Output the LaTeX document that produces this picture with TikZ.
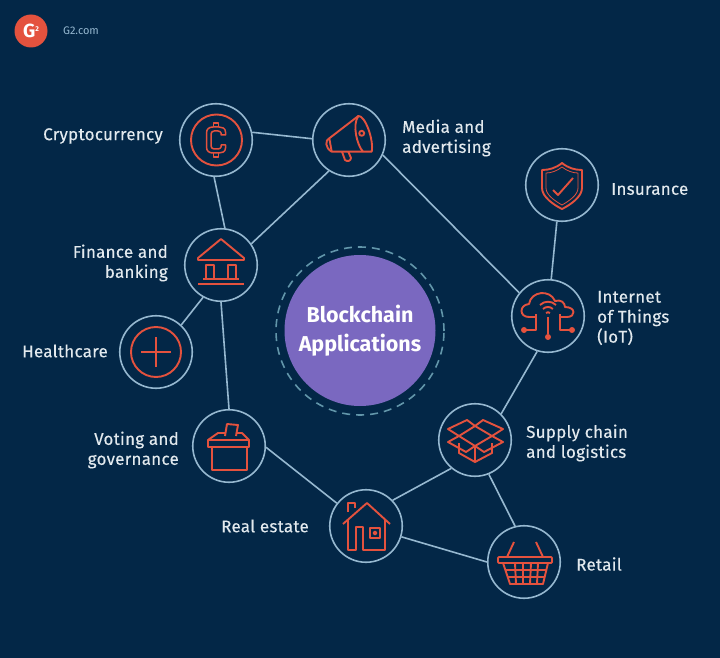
\documentclass[tikz,border=0pt]{standalone}
\usepackage{fontspec}
\setmainfont{Fira Sans}
\newfontfamily\tagfont[FakeBold=0.25,LetterSpace=1.5]{Fira Sans}
\definecolor{navy}{RGB}{3,39,71}
\definecolor{ringblue}{RGB}{150,184,208}
\definecolor{dashblue}{RGB}{98,150,170}
\definecolor{iconred}{RGB}{228,82,62}
\definecolor{hubpurple}{RGB}{122,104,192}
\definecolor{labelwhite}{RGB}{226,233,238}
\begin{document}
\begin{tikzpicture}[x=1pt,y=-1pt,line join=round]
  \tikzstyle{app node}=[circle,draw=ringblue,line width=1.6pt,minimum size=72.5pt,inner sep=0]
  \tikzstyle{link}=[draw=ringblue,line width=1.6pt]
  \tikzstyle{icon}=[draw=iconred,line width=1.9pt]
  \tikzstyle{tag}=[text=labelwhite,inner sep=0,font=\tagfont\fontsize{17}{20}\selectfont]
  \useasboundingbox (0,0) rectangle (720,658);
  \fill[navy] (0,0) rectangle (720,658);
  % logo
  \node(logo)[circle,fill=iconred,minimum size=33pt,inner sep=0,text=white,font=\fontsize{19}{19}\bfseries] at (31,31){G\raisebox{6pt}{\fontsize{7}{7}\selectfont 2}};
  \node(site)[anchor=west,inner sep=0,text=ringblue,font=\fontsize{11}{12}\selectfont] at (63,31){G2.com};
  % hub
  \node(hub)[circle,fill=hubpurple,minimum size=151pt,inner sep=0,align=center,text=white,font=\fontsize{21.5}{29}\bfseries] at (360,330.5){Blockchain\\Applications};
  \node(ring)[circle,draw=dashblue,line width=1.6pt,dash pattern=on 8pt off 6pt,minimum size=168pt,inner sep=0] at (360,331){};
  % circles
  \node(crypto)[app node] at (216,140){};
  \node(media)[app node] at (349,140){};
  \node(finance)[app node] at (221,265){};
  \node(health)[app node] at (156,352){};
  \node(voting)[app node] at (229,446){};
  \node(estate)[app node] at (366,526){};
  \node(retail)[app node] at (524,562){};
  \node(supply)[app node] at (475,440){};
  \node(iot)[app node] at (548,316){};
  \node(insure)[app node] at (562,185){};
  % links
  \path[link] (crypto.12) -- (media.178);
  \path[link] (crypto.267) -- (finance.84);
  \path[link] (media.237) -- (finance.35);
  \path[link] (media.336) -- (iot.141);
  \path[link] (insure.262) -- (iot.85);
  \path[link] (iot.253) -- (supply.45);
  \path[link] (supply.230) -- (estate.44);
  \path[link] (supply.292) -- (retail.104);
  \path[link] (estate.343) -- (retail.180);
  \path[link] (estate.142) -- (voting.358);
  \path[link] (finance.270) -- (voting.90);
  \path[link] (finance.241) -- (health.47);
  % labels
  \node(cryptotag)[tag,anchor=east] at (163,136){Cryptocurrency};
  \node(mediatag)[tag,anchor=west,align=left] at (402,138){Media and\\advertising};
  \node(financetag)[tag,anchor=east,align=right] at (168,263){Finance and\\banking};
  \node(healthtag)[tag,anchor=east] at (108,351){Healthcare};
  \node(votingtag)[tag,anchor=east,align=right] at (179,450){Voting and\\governance};
  \node(estatetag)[tag,anchor=east] at (309,526){Real estate};
  \node(retailtag)[tag,anchor=west] at (576,564){Retail};
  \node(supplytag)[tag,anchor=west,align=left] at (526,443){Supply chain\\and logistics};
  \node(iottag)[tag,anchor=west,align=left] at (597,318){Internet\\of Things\\(IoT)};
  \node(insuretag)[tag,anchor=west] at (611,189){Insurance};
  % coin
  \begin{scope}[shift={(crypto)}]
    \draw[icon] (0.5,0) circle (25.5pt);
    \draw[icon,line width=1.5pt] (9.5,-5) -- (9.5,-8) .. controls (9.5,-12) and (6,-13) .. (3,-13) -- (-3,-13) .. controls (-7,-13) and (-9.5,-11) .. (-9.5,-7) -- (-9.5,7) .. controls (-9.5,11) and (-7,13) .. (-3,13) -- (3,13) .. controls (6,13) and (9.5,12) .. (9.5,8) -- (9.5,5) -- (5,5) -- (5,7) .. controls (5,8) and (3.5,9) .. (2,9) -- (-2,9) .. controls (-3.5,9) and (-5,7.5) .. (-5,6) -- (-5,-6) .. controls (-5,-7.5) and (-3.5,-9) .. (-2,-9) -- (2,-9) .. controls (3.5,-9) and (5,-8) .. (5,-7) -- (5,-5) -- cycle;
    \draw[icon,line width=1.5pt] (-2.5,-13) -- (-2.5,-17) -- (2.5,-17) -- (2.5,-13) (-2.5,13) -- (-2.5,17) -- (2.5,17) -- (2.5,13);
  \end{scope}
  % megaphone
  \begin{scope}[shift={(media)}]
    \draw[icon] (-19.7,-1.7) -- (9.3,-24) .. controls (16,-25) and (25,0) .. (22.7,11.7) -- (-17.3,11.7) -- cycle;
    \draw[icon] (9.3,-24) .. controls (3,-15) and (8,5) .. (14,11.7);
    \draw[icon] (-19.7,-1.7) .. controls (-24,0) and (-24,8) .. (-17.3,11.7);
    \draw[icon] (-7,11.7) -- (-4,20) .. controls (-2,22) and (2,21) .. (2,18) -- (-0.7,11.7);
    \draw[icon] (12.7,-6.7) circle (2.5pt);
  \end{scope}
  % bank
  \begin{scope}[shift={(finance)}]
    \draw[icon] (0,-26) -- (23,-7) -- (23,-5) -- (-23,-5) -- (-23,-7) -- cycle;
    \draw[icon] (-15,14) -- (-15,0) -- (-7,0) -- (-7,14) (7,14) -- (7,0) -- (15,0) -- (15,14);
    \draw[icon] (-18,14) -- (18,14) (-23,19) -- (23,19);
  \end{scope}
  % plus
  \begin{scope}[shift={(health)}]
    \draw[icon] (0,0) circle (25pt);
    \draw[icon] (-15,0) -- (15,0) (0,-15) -- (0,15);
  \end{scope}
  % ballot box
  \begin{scope}[shift={(voting)}]
    \draw[icon] (-21,-6) -- (-11,-13) -- (13,-13) -- (20,-6) -- (20,1) -- (-21,1) -- cycle;
    \draw[icon] (-21,-6) -- (20,-6);
    \draw[icon] (-17,1) -- (-17,24) -- (18,24) -- (18,1);
    \draw[icon,fill=navy] (-4,-10) -- (-2,-22) -- (9,-21) -- (7,-10);
  \end{scope}
  % house
  \begin{scope}[shift={(estate)}]
    \draw[icon] (-23,-2) -- (1,-23) -- (24,-2);
    \draw[icon] (-18,-14) -- (-18,-23) -- (-11,-23) -- (-11,-18);
    \draw[icon] (-18,-7) -- (-18,24) -- (-10,24) -- (-10,1) -- (-3,1) -- (-3,24) -- (19,24) -- (19,-7);
    \draw[icon] (4,2) rectangle (14,12);
    \draw[icon] (9,7) circle (1.5pt);
  \end{scope}
  % basket
  \begin{scope}[shift={(retail)}]
    \draw[icon,rounded corners=1pt] (-26,-5) rectangle (28,1);
    \draw[icon] (-21,1) -- (-14,22) -- (19,22) -- (24,1);
    \draw[icon] (-17,-5) -- (-10,-20) (19,-5) -- (12,-20);
    \draw[icon] (-19,8) -- (22,8) (-17,15) -- (20.5,15);
    \foreach \gridx/\gridy in {-9/-8,-1/-1,7/6,14/13}
      \draw[icon] (\gridx,1) -- (\gridy,22);
  \end{scope}
  % open box
  \begin{scope}[shift={(supply)}]
    \draw[icon] (-16,-4) -- (0,-14) -- (17,-4) -- (0,6) -- cycle;
    \draw[icon] (0,6) -- (0,22);
    \draw[icon] (-16,3) -- (-16,13) -- (0,22) -- (17,13) -- (17,3);
    \draw[icon] (-16,-4) -- (-27,-11) -- (-8,-20) -- (0,-14) -- (8,-20) -- (28,-11) -- (17,-4);
    \draw[icon] (-16,-4) -- (-27,2) -- (-9,12) -- (0,6) -- (9,12) -- (28,2) -- (17,-4);
  \end{scope}
  % cloud
  \begin{scope}[shift={(iot)}]
    \draw[icon] (-12,1) -- (-19,1) .. controls (-29,1) and (-29,-11) .. (-19,-12) .. controls (-17,-25) and (2,-27) .. (7,-15) .. controls (13,-17) and (17,-13) .. (17,-9) .. controls (28,-9) and (28,1) .. (19,1) -- (12,1);
    \draw[icon] (-8,-11) arc[start angle=135,end angle=45,radius=11.3pt];
    \draw[icon] (-5,-7) arc[start angle=135,end angle=45,radius=7pt];
    \draw[icon] (-2,-3) arc[start angle=135,end angle=45,radius=2.8pt];
    \draw[icon] (0,1) -- (0,18) (-12,-2) -- (-12,14) -- (-22,14) (12,-2) -- (12,14) -- (22,14);
    \fill[iconred] (0,21) circle (3pt) (-24,14) circle (3pt) (24,14) circle (3pt);
  \end{scope}
  % shield
  \begin{scope}[shift={(insure)}]
    \draw[icon] (0,-22) .. controls (-6,-17) and (-13,-15) .. (-20,-15) -- (-20,3) .. controls (-20,12) and (-8,20) .. (0,24) .. controls (8,20) and (20,12) .. (20,3) -- (20,-15) .. controls (13,-15) and (6,-17) .. (0,-22) -- cycle;
    \draw[icon,line width=0.8pt] (0,-18) .. controls (-5,-14) and (-11,-12) .. (-16,-12) -- (-16,3) .. controls (-16,10) and (-7,16) .. (0,20) .. controls (7,16) and (16,10) .. (16,3) -- (16,-12) .. controls (11,-12) and (5,-14) .. (0,-18) -- cycle;
    \draw[icon] (-9,5) -- (-4,10) -- (11,-7);
  \end{scope}
\end{tikzpicture}
\end{document}
